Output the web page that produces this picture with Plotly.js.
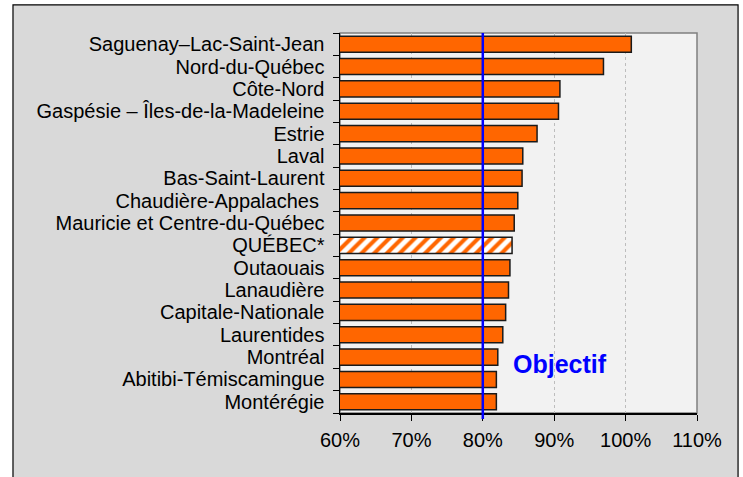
<!DOCTYPE html>
<html>
<head>
<meta charset="utf-8">
<script src="https://cdn.plot.ly/plotly-3.0.1.min.js"></script>
<style>
  html, body { margin: 0; padding: 0; background: #fff; }
  #chart { width: 743px; height: 477px; }
</style>
</head>
<body>
<div id="chart"></div>
<script>
// regions, top to bottom
const regions = [
  "Saguenay–Lac-Saint-Jean",
  "Nord-du-Québec",
  "Côte-Nord",
  "Gaspésie – Îles-de-la-Madeleine",
  "Estrie",
  "Laval",
  "Bas-Saint-Laurent",
  "Chaudière-Appalaches\u00a0",
  "Mauricie et Centre-du-Québec",
  "QUÉBEC*",
  "Outaouais",
  "Lanaudière",
  "Capitale-Nationale",
  "Laurentides",
  "Montréal",
  "Abitibi-Témiscamingue",
  "Montérégie"
];
const values = [100.8, 96.9, 90.8, 90.6, 87.6, 85.6, 85.5, 84.9, 84.4, 84.1, 83.8, 83.6, 83.2, 82.8, 82.1, 81.9, 81.9];
const xTicks = [60, 70, 80, 90, 100, 110];
const objectif = 80;
const objectifLabel = "Objectif";
const totalLabel = "QUÉBEC*";

const orange = "#ff6600";
const font = "'Liberation Sans', Arial, sans-serif";

// the provincial total is drawn hatched
const hatch = regions.map(r => r === totalLabel ? "/" : "");

const trace = {
  type: "bar",
  orientation: "h",
  y: regions,
  x: values,
  marker: {
    color: orange,
    line: { color: "#1a1a1a", width: 1.5 },
    pattern: {
      shape: hatch,
      fgcolor: orange,
      bgcolor: "#ffffff",
      fgopacity: 1,
      size: 9,
      solidity: 0.45,
      fillmode: "replace"
    }
  },
  hoverinfo: "x+y"
};

const layout = {
  width: 743,
  height: 477,
  margin: { l: 340, r: 46, t: 33, b: 64 },
  paper_bgcolor: "#ffffff",
  plot_bgcolor: "rgba(0,0,0,0)",
  showlegend: false,
  bargap: 0.28,
  font: { family: font, size: 20, color: "#000" },
  xaxis: {
    range: [60, 110],
    tickmode: "array",
    tickvals: xTicks,
    ticktext: xTicks.map(v => v + "%"),
    ticks: "outside",
    ticklen: 6,
    tickcolor: "#000",
    ticklabelstandoff: 2,
    showline: true,
    linecolor: "#000",
    linewidth: 1.5,
    showgrid: true,
    gridcolor: "#bdbdbd",
    griddash: "dot",
    gridwidth: 1,
    zeroline: false,
    fixedrange: true
  },
  yaxis: {
    type: "category",
    autorange: "reversed",
    tickmode: "array",
    tickvals: regions,
    ticktext: regions,
    ticks: "outside",
    tickson: "boundaries",
    ticklen: 6,
    tickcolor: "#000",
    ticklabelstandoff: 10,
    showline: true,
    linecolor: "#000",
    linewidth: 1.5,
    showgrid: false,
    zeroline: false,
    fixedrange: true
  },
  shapes: [
    {
      type: "rect", xref: "paper", yref: "paper", layer: "below",
      x0: -0.916, x1: 1.115, y0: -0.3, y1: 1.074,
      fillcolor: "#d9d9d9", line: { color: "#000", width: 1.2 }
    },
    {
      type: "rect", xref: "paper", yref: "paper", layer: "below",
      x0: 0, x1: 1, y0: 0, y1: 1,
      fillcolor: "#f2f2f2", line: { color: "#808080", width: 1.5 }
    },
    {
      type: "line", xref: "x", yref: "paper", layer: "above",
      x0: objectif, x1: objectif, y0: -0.016, y1: 1,
      line: { color: "#0000ff", width: 2.5 }
    }
  ],
  annotations: [
    {
      text: "<b>" + objectifLabel + "</b>",
      xref: "x", yref: "paper",
      x: 83.9, y: 0.129,
      xanchor: "left", yanchor: "middle",
      showarrow: false,
      font: { family: font, size: 25, color: "#0000ff" }
    }
  ]
};

Plotly.newPlot("chart", [trace], layout, { displayModeBar: false, staticPlot: true });
</script>
</body>
</html>
